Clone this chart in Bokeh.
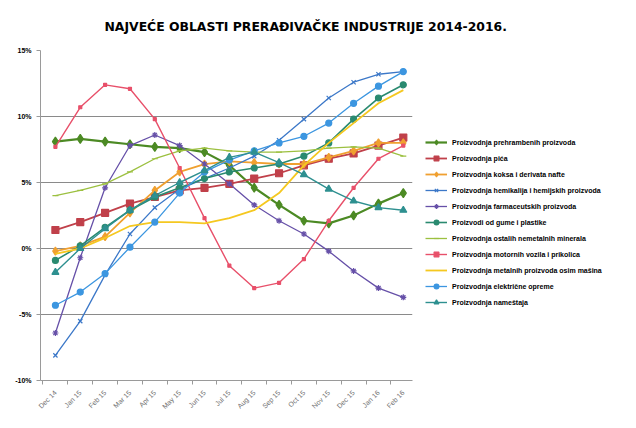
from bokeh.plotting import figure
from bokeh.models import Range1d, FixedTicker, Legend, LegendItem
from bokeh.embed import file_html
from bokeh.resources import INLINE
import math

months = ["Dec 14", "Jan 15", "Feb 15", "Mar 15", "Apr 15", "May 15", "Jun 15", "Jul 15",
          "Aug 15", "Sep 15", "Oct 15", "Nov 15", "Dec 15", "Jan 16", "Feb 16"]
y_ticks = [-10, -5, 0, 5, 10, 15]
y_tick_labels = ["-10%", "-5%", "0%", "5%", "10%", "15%"]

prehrambenih = [8.1, 8.3, 8.1, 7.9, 7.7, 7.6, 7.3, 6.3, 4.6, 3.3, 2.1, 1.9, 2.5, 3.4, 4.2]
pica = [1.4, 2.0, 2.7, 3.4, 3.9, 4.4, 4.6, 4.9, 5.3, 5.7, 6.3, 6.8, 7.2, 7.8, 8.4]
koksa = [-0.2, 0.2, 0.9, 2.7, 4.4, 5.8, 6.4, 6.6, 6.5, 6.4, 6.4, 6.9, 7.4, 8.0, 8.0]
hemikalija = [-8.1, -5.5, -2.0, 1.1, 3.1, 4.5, 5.3, 6.1, 7.0, 8.2, 9.8, 11.4, 12.6, 13.2, 13.4]
farmaceutskih = [-6.4, -0.7, 4.6, 7.8, 8.6, 7.8, 6.4, 4.9, 3.3, 2.1, 1.1, -0.2, -1.7, -3.0, -3.7]
gume = [-0.9, 0.2, 1.6, 2.9, 3.9, 4.6, 5.3, 5.8, 6.1, 6.4, 7.0, 8.0, 9.8, 11.4, 12.4]
nemetalnih = [4.0, 4.4, 4.9, 5.8, 6.8, 7.4, 7.6, 7.4, 7.3, 7.3, 7.4, 7.6, 7.7, 7.6, 7.0]
motornih = [7.7, 10.7, 12.4, 12.1, 9.8, 6.1, 2.3, -1.3, -3.0, -2.6, -0.8, 2.1, 4.6, 6.8, 7.8]
metalnih = [-0.4, 0.0, 0.8, 1.7, 2.0, 2.0, 1.9, 2.3, 2.9, 4.2, 6.3, 8.0, 9.5, 11.0, 12.0]
elektricne = [-4.3, -3.3, -1.9, 0.1, 2.0, 4.2, 5.8, 6.7, 7.4, 8.0, 8.5, 9.5, 11.0, 12.3, 13.4]
namestaja = [-1.8, 0.0, 1.5, 2.9, 4.0, 5.0, 5.9, 6.9, 7.3, 6.5, 5.6, 4.5, 3.6, 3.1, 2.9]

series = [
    ("Proizvodnja prehrambenih proizvoda", prehrambenih, "#4C8A24", "diamond", 9, 2.2),
    ("Proizvodnja pića", pica, "#C0404A", "square", 7, 1.8),
    ("Proizvodnja koksa i derivata nafte", koksa, "#F0A030", "diamond", 8, 1.8),
    ("Proizvodnja hemikalija i hemijskih proizvoda", hemikalija, "#3C78C8", "x", 6, 1.3),
    ("Proizvodnja farmaceutskih proizvoda", farmaceutskih, "#6650A8", "asterisk", 6, 1.3),
    ("Proizvodi od gume i plastike", gume, "#2A8A70", "circle", 6, 1.6),
    ("Proizvodnja ostalih nemetalnih minerala", nemetalnih, "#9CC040", "dash", 6, 1.3),
    ("Proizvodnja motornih vozila i prikolica", motornih, "#E8506A", "square", 3, 1.4),
    ("Proizvodnja metalnih proizvoda osim mašina", metalnih, "#F5C820", None, 0, 1.8),
    ("Proizvodnja električne opreme", elektricne, "#3C96E0", "circle", 6, 1.3),
    ("Proizvodnja nameštaja", namestaja, "#2E9090", "triangle", 7, 1.4),
]

p = figure(frame_width=372, frame_height=330,
           min_border_left=40, min_border_right=216, min_border_top=50, min_border_bottom=40,
           x_range=Range1d(-0.6, 14.37), y_range=Range1d(-10, 15),
           output_backend="svg", toolbar_location=None,
           title="NAJVEĆE OBLASTI PRERAĐIVAČKE INDUSTRIJE 2014-2016.")
p.outline_line_color = None
p.background_fill_color = "white"
p.border_fill_color = "white"

p.title.align = "left"
p.title.offset = 64
p.title.standoff = 33
p.title.text_font = "DejaVu Sans"
p.title.text_font_style = "bold"
p.title.text_font_size = "12.4px"
p.title.text_color = "black"

xs = list(range(len(months)))

items = []
for name, vals, col, mk, sz, lw in series:
    rs = [p.line(xs, vals, line_color=col, line_width=lw)]
    if mk is not None:
        rs.append(p.scatter(xs, vals, marker=mk, size=sz, line_color=col, fill_color=col, line_width=1.2))
    items.append(LegendItem(label=name, renderers=rs))

legend = Legend(items=items, location=(13, 72), label_text_font_size="7px",
                label_text_font="Liberation Sans", label_text_font_style="bold",
                label_text_color="black", label_height=12, glyph_height=12, glyph_width=22,
                spacing=4, padding=2, margin=0, border_line_color=None,
                background_fill_alpha=0)
p.add_layout(legend, "right")

p.xgrid.visible = False
p.ygrid.ticker = FixedTicker(ticks=y_ticks)
p.ygrid.grid_line_color = "#8a8a8a"
p.ygrid.grid_line_width = 1.2

p.yaxis.ticker = FixedTicker(ticks=y_ticks)
p.yaxis.major_label_overrides = {t: l for t, l in zip(y_ticks, y_tick_labels)}
p.yaxis.major_label_text_font = "Liberation Sans"
p.yaxis.major_label_text_font_style = "bold"
p.yaxis.major_label_text_font_size = "7px"
p.yaxis.major_label_text_color = "black"
p.yaxis.axis_line_color = "#9a9a9a"
p.yaxis.major_tick_line_color = "#9a9a9a"
p.yaxis.major_tick_in = 0
p.yaxis.major_tick_out = 4
p.yaxis.minor_tick_line_color = None

p.xaxis.ticker = FixedTicker(ticks=xs, minor_ticks=[i + 0.5 for i in range(-1, 15)])
p.xaxis.major_label_overrides = {i: m for i, m in enumerate(months)}
p.xaxis.major_label_orientation = math.pi / 4
p.xaxis.major_label_text_font = "Liberation Sans"
p.xaxis.major_label_text_font_size = "7px"
p.xaxis.major_label_text_color = "#707070"
p.xaxis.axis_line_color = "#9a9a9a"
p.xaxis.major_tick_line_color = None
p.xaxis.minor_tick_line_color = "#9a9a9a"
p.xaxis.minor_tick_in = 0
p.xaxis.minor_tick_out = 4

open("out.html", "w").write(file_html(p, INLINE))
